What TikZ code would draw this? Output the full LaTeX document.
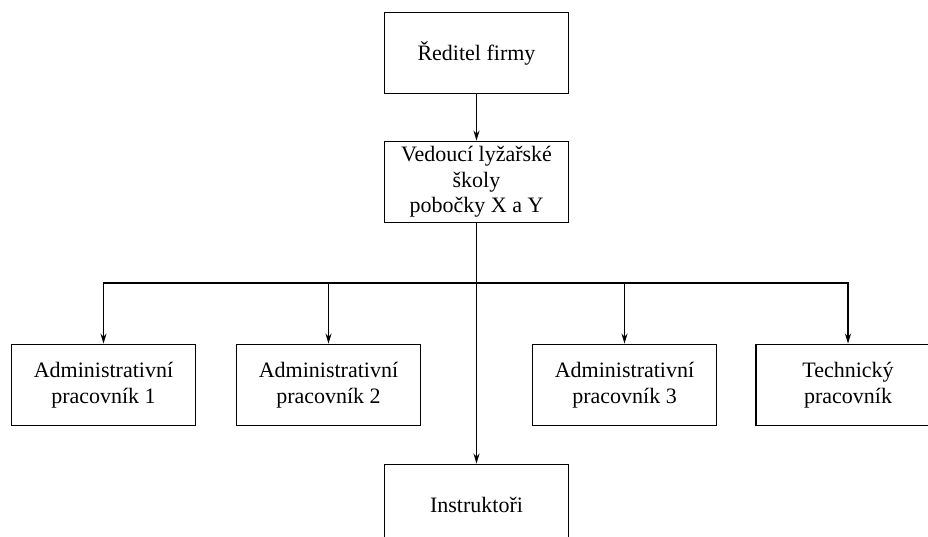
\documentclass[tikz,border=0pt]{standalone}
\usepackage{fontspec}
\setmainfont{Liberation Serif}
\usetikzlibrary{arrows.meta}
\begin{document}
\begin{tikzpicture}[x=1pt,y=-1pt,
  box/.style={draw, line width=1.8pt, minimum width=184pt, minimum height=81pt,
    align=center, inner sep=0pt, font=\fontsize{22}{25.5}\selectfont},
  link/.style={line width=1.8pt},
  arr/.style={link, -{Stealth[length=10pt,width=6pt]}}]
  \useasboundingbox (0,0) rectangle (928,537);
  \clip (0,0) rectangle (928,537);
  \fill[white] (0,0) rectangle (928,537);

  % boxes
  \node[box] (dir) at (476.5,53) {Ředitel firmy};
  \node[box] (ved) at (476.5,182) {Vedoucí lyžařské\\školy\\pobočky X a Y};
  \node[box] (adm1) at (103.5,385) {Administrativní\\pracovník 1};
  \node[box] (adm2) at (328.5,385) {Administrativní\\pracovník 2};
  \node[box] (adm3) at (624.5,385) {Administrativní\\pracovník 3};
  \node[box] (tech) at (848,385) {Technický\\pracovník};
  \node[box] (ins) at (476.5,505) {Instruktoři};

  % connectors
  \coordinate (hub) at (476.5,283);
  \draw[arr] (dir) -- (ved);
  \draw[arr] (ved.south) -- (ins.north);
  \draw[arr] (hub) -| (adm1.north);
  \draw[arr] (hub) -| (adm2.north);
  \draw[arr] (hub) -| (adm3.north);
  \draw[arr] (hub) -| (tech.north);
\end{tikzpicture}
\end{document}
